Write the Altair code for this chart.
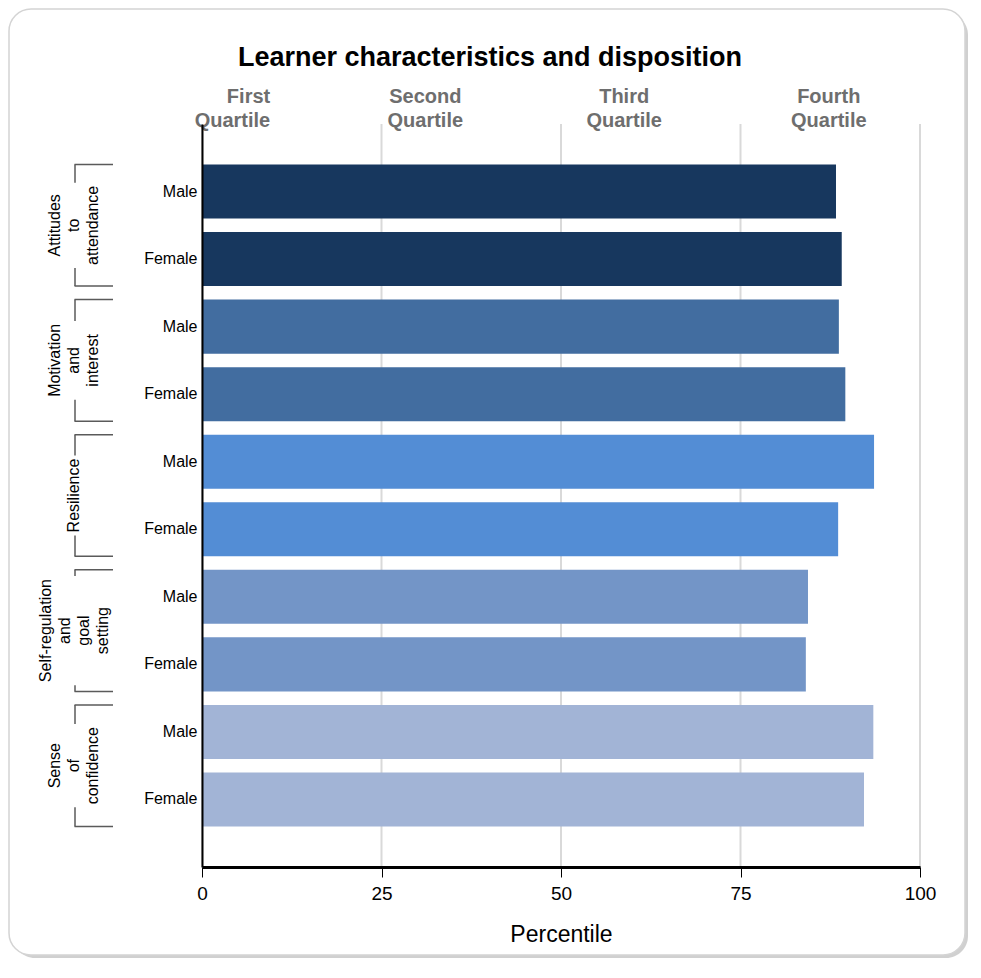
import altair as alt
import pandas as pd

# ---------------- data ----------------
groups = ["Attitudes to attendance", "Motivation and interest", "Resilience",
          "Self-regulation and goal setting", "Sense of confidence"]
group_lines = [["Attitudes", "to", "attendance"],
               ["Motivation", "and", "interest"],
               ["Resilience"],
               ["Self-regulation", "and", "goal", "setting"],
               ["Sense", "of", "confidence"]]
genders = ["Male", "Female"]
male_values = [88.3, 88.7, 93.6, 84.4, 93.5]
female_values = [89.1, 89.6, 88.6, 84.1, 92.2]
group_colors = ["#17375E", "#426DA0", "#538DD5", "#7395C7", "#A2B4D6"]
x_ticks = [0, 25, 50, 75, 100]
quartile_names = ["First", "Second", "Third", "Fourth"]
quartile_pos = [9.5, 31.1, 58.8, 87.3]

# ---------------- layout constants ----------------
W, H = 718, 743
PAD_INNER, PAD_OUTER = 0.2, 0.6
FONT = "Liberation Sans"
GL_SIZE, GL_LINE = 16, 19

rows, rec = [], []
for g, m, f in zip(groups, male_values, female_values):
    for gender, v in zip(genders, [m, f]):
        key = f"{g}|{gender}"
        rows.append(key)
        rec.append({"row": key, "group": g, "gender": gender, "value": v})
bars_df = pd.DataFrame(rec)

n_rows = len(rows)
total_steps = n_rows - PAD_INNER + 2 * PAD_OUTER
step_px = H / total_steps

# approximate Arial widths (per 1000 em) for bracket gaps
_w = {'a': 556, 'b': 556, 'c': 500, 'd': 556, 'e': 556, 'f': 278, 'g': 556, 'h': 556,
      'i': 222, 'j': 222, 'k': 500, 'l': 222, 'm': 833, 'n': 556, 'o': 556, 'p': 556,
      'q': 556, 'r': 333, 's': 500, 't': 278, 'u': 556, 'v': 500, 'w': 722, 'x': 500,
      'y': 500, 'z': 500, 'A': 667, 'M': 833, 'R': 722, 'S': 667, '-': 333, ' ': 278}


def text_w(s, size):
    return sum(_w.get(c, 556) for c in s) * size / 1000.0


grp_rec, seg_rec, tick_rec = [], [], []
for gi, (g, lines) in enumerate(zip(groups, group_lines)):
    top = PAD_OUTER + 2 * gi
    bottom = top + 2 - PAD_INNER
    center = (top + bottom) / 2
    gap = (max(text_w(s, GL_SIZE) for s in lines) / 2 + 3) / step_px
    grp_rec.append({"group": g, "lines": lines, "n": len(lines), "c": center})
    seg_rec.append({"y": top, "y2": center - gap})
    seg_rec.append({"y": center + gap, "y2": bottom})
    tick_rec.append({"y": top})
    tick_rec.append({"y": bottom})
grp_df = pd.DataFrame(grp_rec)
seg_df = pd.DataFrame(seg_rec)
tick_df = pd.DataFrame(tick_rec)

q_df = pd.DataFrame({"name": quartile_names, "pos": quartile_pos})
q_df["lines"] = [[n, "Quartile"] for n in quartile_names]
grid_df = pd.DataFrame({"t": x_ticks})

# ---------------- frame ----------------
frame_shadow = alt.Chart(pd.DataFrame({"a": [0]})).mark_rect(
    cornerRadius=22, fill="#c4c4c4", opacity=0.8
).encode(x=alt.value(-189), x2=alt.value(766), y=alt.value(-111), y2=alt.value(834))
frame = alt.Chart(pd.DataFrame({"a": [0]})).mark_rect(
    cornerRadius=22, fill="white", stroke="#d4d4d4", strokeWidth=1.5
).encode(x=alt.value(-193), x2=alt.value(763), y=alt.value(-115), y2=alt.value(831))

# ---------------- grid lines ----------------
grid = alt.Chart(grid_df).mark_rule(color="#d9d9d9", strokeWidth=2).encode(
    x=alt.X("t:Q", title="Percentile")
)

# ---------------- bars ----------------
bars = alt.Chart(bars_df).mark_bar().encode(
    x=alt.X("value:Q",
            scale=alt.Scale(domain=[0, 100], nice=False, zero=True),
            axis=alt.Axis(values=x_ticks, title="Percentile", grid=False, zindex=1,
                          domainColor="black", domainWidth=3,
                          tickColor="black", tickWidth=1, tickSize=10,
                          labelFont=FONT, labelFontSize=19, labelColor="black",
                          labelPadding=7, labelFlush=False,
                          titleFont=FONT, titleFontSize=23, titleFontWeight="normal",
                          titleColor="black", titlePadding=20)),
    y=alt.Y("row:N",
            scale=alt.Scale(domain=rows, paddingInner=PAD_INNER, paddingOuter=PAD_OUTER),
            axis=alt.Axis(title=None, ticks=False, domainColor="black", domainWidth=2,
                          zindex=1, labelExpr="split(datum.label, '|')[1]",
                          labelFont=FONT, labelFontSize=16, labelColor="black",
                          labelPadding=5, grid=False)),
    color=alt.Color("group:N", scale=alt.Scale(domain=groups, range=group_colors),
                    legend=None),
)

# ---------------- quartile labels ----------------
q_first = alt.Chart(q_df).transform_filter(alt.datum.name == "First").mark_text(
    font=FONT, fontSize=20, fontWeight="bold", color="#6e6e6e",
    align="right", baseline="top", lineHeight=24
).encode(x=alt.X("pos:Q", title="Percentile"), y=alt.value(-37), text="lines")

q_rest = alt.Chart(q_df).transform_filter(alt.datum.name != "First").mark_text(
    font=FONT, fontSize=20, fontWeight="bold", color="#6e6e6e",
    align="center", baseline="top", lineHeight=24
).encode(x=alt.X("pos:Q", title="Percentile"), y=alt.value(-37), text="lines")

# ---------------- group brackets ----------------
yq = alt.Scale(domain=[0, total_steps], reverse=True, nice=False, zero=False)

br_vert = alt.Chart(seg_df).mark_rule(color="#5a5a5a", strokeWidth=1.5).encode(
    x=alt.value(-127),
    y=alt.Y("y:Q", scale=yq, axis=None),
    y2="y2:Q",
)
br_tick = alt.Chart(tick_df).mark_rule(color="#5a5a5a", strokeWidth=1.5).encode(
    x=alt.value(-127.5), x2=alt.value(-89),
    y=alt.Y("y:Q", scale=yq, axis=None),
)

# multi-line rotated labels: shift each block so that it is centred on the bracket
grp_layers = []
for n in sorted(grp_df["n"].unique()):
    grp_layers.append(
        alt.Chart(grp_df).transform_filter(alt.datum.n == int(n)).mark_text(
            font=FONT, fontSize=GL_SIZE, color="black", angle=270,
            align="center", baseline="middle", lineHeight=GL_LINE,
            dy=-(int(n) - 1) * GL_LINE / 2
        ).encode(
            x=alt.value(-128),
            y=alt.Y("c:Q", scale=yq, axis=None),
            text="lines",
        )
    )

chart = alt.layer(
    frame_shadow, frame, grid, bars, q_first, q_rest, br_vert, br_tick, *grp_layers
).resolve_scale(y="independent").properties(
    width=W, height=H,
    padding={"left": 194, "top": 116, "right": 50, "bottom": 91},
    autosize=alt.AutoSizeParams(type="none"),
    title=alt.TitleParams(
        text="Learner characteristics and disposition",
        font=FONT, fontSize=27, fontWeight="bold", color="black",
        anchor="middle", frame="group", dx=-71, offset=0, dy=64,
    ),
).configure_view(stroke=None).configure(background="white")

chart.save("out.html", embed_options={"renderer": "svg", "actions": False})
